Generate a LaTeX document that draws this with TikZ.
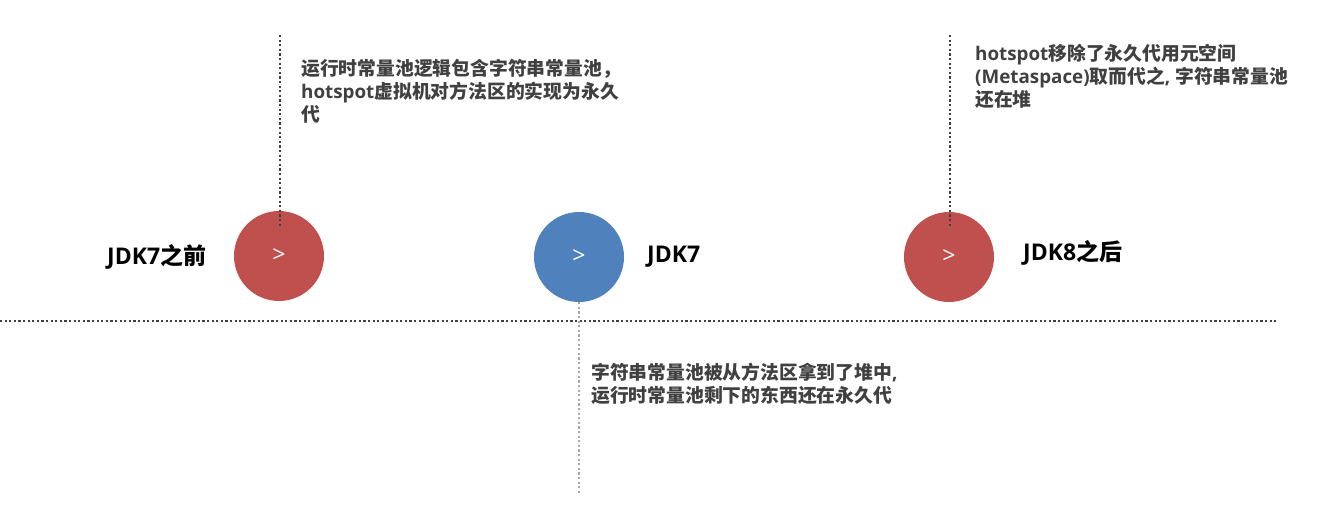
\documentclass[tikz,border=0pt]{standalone}
\usepackage{fontspec}
\setmainfont{Noto Sans CJK SC}
\newfontfamily\lat{Open Sans}
\definecolor{cred}{HTML}{C0504D}
\definecolor{cblue}{HTML}{4F81BD}
\definecolor{ctext}{HTML}{404040}
\definecolor{cdot}{HTML}{404040}
\definecolor{clight}{HTML}{A6A6A6}
\tikzset{
  dot/.style={line width=2.2pt, dash pattern=on 2.2pt off 2.4pt, draw=cdot},
  lightdot/.style={dot, draw=clight},
  bubble/.style={circle, minimum size=90pt, inner sep=0pt, text=white, font=\lat\fontsize{23}{23}\selectfont},
  era/.style={font=\fontsize{23}{23}\selectfont\bfseries, text=black, inner sep=0pt},
  note/.style={anchor=north west, align=left, inner sep=0pt, text=ctext, font=\fontsize{18.8}{23}\selectfont\bfseries}
}
\begin{document}
\begin{tikzpicture}[x=1pt,y=-1pt]
\useasboundingbox (0,0) rectangle (1326,511);
% circles
\node[bubble, fill=cred] (c1) at (279,256) {>};
\node[bubble, fill=cblue] (c2) at (579,257) {>};
\node[bubble, fill=cred] (c3) at (949,257) {>};
% labels
\node[era, anchor=west] (l1) at (107,257) {{\lat JDK7}之前};
\node[era, anchor=west] (l2) at (647,257) {{\lat JDK7}};
\node[era, anchor=west] (l3) at (1023,253) {{\lat JDK8}之后};
% dotted lines
\coordinate (h0) at (0,321);
\coordinate (h1) at (1278,321);
\draw[dot] (h0) -- (h1);
\coordinate (t1) at (280,35);
\coordinate (b1) at (280,228);
\draw[dot] (t1) -- (b1);
\coordinate (t3) at (950,35);
\coordinate (b3) at (950,228);
\draw[dot] (t3) -- (b3);
\coordinate (b2) at (579,494);
\draw[lightdot] (c2.south) -- (b2);
% notes
\node[note] (n1) at (301,59.5) {运行时常量池逻辑包含字符串常量池，\\{\lat hotspot}虚拟机对方法区的实现为永久\\代};
\node[note] (n3) at (975,44) {{\lat hotspot}移除了永久代用元空间\\{\lat (Metaspace)}取而代之{\lat , }字符串常量池\\还在堆};
\node[note] (n2) at (591,363) {字符串常量池被从方法区拿到了堆中{\lat ,}\\运行时常量池剩下的东西还在永久代};
\end{tikzpicture}
\end{document}
